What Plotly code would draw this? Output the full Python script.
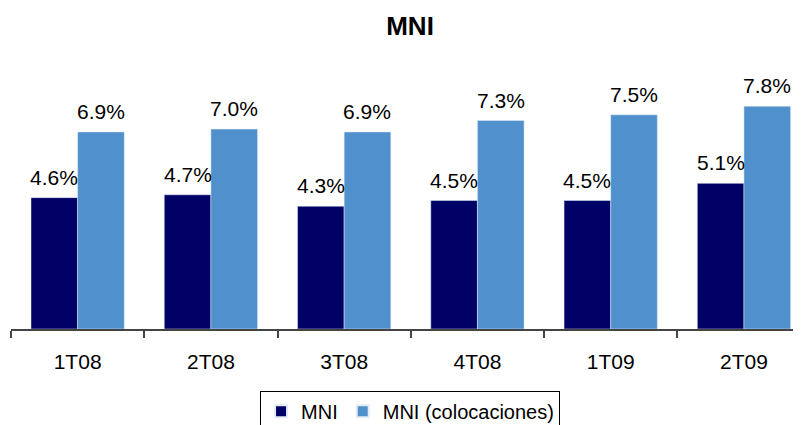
import plotly.graph_objects as go

# data
periodos = ['1T08', '2T08', '3T08', '4T08', '1T09', '2T09']
mni = [4.6, 4.7, 4.3, 4.5, 4.5, 5.1]
mni_colocaciones = [6.9, 7.0, 6.9, 7.3, 7.5, 7.8]

FONT = 'Liberation Sans, Arial, sans-serif'
DARK = '#000066'
LIGHT = '#5090CD'

fig = go.Figure()
fig.add_trace(go.Bar(x=periodos, y=mni, name='MNI', marker_color=DARK))
fig.add_trace(go.Bar(x=periodos, y=mni_colocaciones, name='MNI (colocaciones)',
                     marker_color=LIGHT))

# value labels above each bar
annotations = []
for serie, shift in ((mni, -23.3), (mni_colocaciones, 23.3)):
    for p, v in zip(periodos, serie):
        annotations.append(dict(x=p, y=v, text=f'{v:.1f}%', showarrow=False,
                                xshift=shift, yshift=7, yanchor='bottom',
                                font=dict(family=FONT, size=21, color='#000000')))

# page body has an 8px margin, so the figure is 8px smaller each way
fig.update_layout(
    width=793, height=417,
    margin=dict(l=3, r=0, t=64, b=96),
    paper_bgcolor='white', plot_bgcolor='white',
    title=dict(text='<b>MNI</b>', x=0.507, xanchor='center', y=0.957, yanchor='middle',
               font=dict(family=FONT, size=26, color='#000000')),
    barmode='group', bargap=0.3, bargroupgap=0,
    annotations=annotations,
    showlegend=True,
    legend=dict(orientation='h', xref='container', yref='container',
                x=0.507, xanchor='center', y=0.082, yanchor='top',
                bordercolor='#000000', borderwidth=1,
                font=dict(family=FONT, size=20, color='#000000'),
                itemsizing='constant'),
    font=dict(family=FONT, color='#000000'),
)
fig.update_xaxes(type='category', range=[-0.5, 5.428], showline=True,
                 linecolor='#444444', linewidth=1.5, ticks='outside',
                 tickson='boundaries', ticklen=7, tickwidth=1.5, tickcolor='#444444',
                 ticklabelstandoff=13,
                 tickfont=dict(family=FONT, size=21, color='#000000'),
                 showgrid=False)
fig.update_yaxes(range=[0, 9], visible=False, showgrid=False, zeroline=False)

fig.write_html('out.html')
